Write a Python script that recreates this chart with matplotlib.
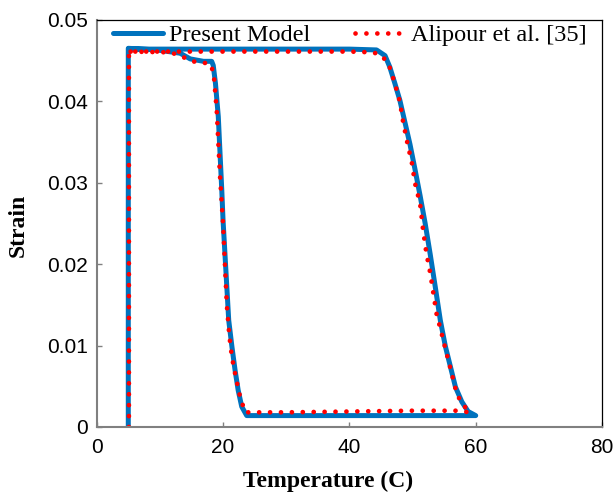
import matplotlib.pyplot as plt

# heating / cooling loop, strain vs temperature
model_temp = [5.0, 5.0, 20.0, 30.0, 40.0, 44.3, 45.65, 46.4, 47.2, 48.0, 48.8,
              49.6, 50.4, 51.2, 52.0, 52.8, 53.6, 54.4, 55.2, 56.0, 56.8, 57.8,
              58.8, 60.0, 50.0, 40.0, 30.0, 23.75, 22.96, 22.4, 21.9, 21.4,
              20.9, 20.6, 20.3, 20.0, 19.8, 19.5, 19.25, 18.8, 18.45, 18.2,
              16.9, 14.8, 13.2, 9.5, 5.0]
model_strain = [0.0, 0.0464, 0.0464, 0.0464, 0.0464, 0.0463, 0.0456, 0.0442,
                0.0422, 0.0401, 0.0374, 0.0347, 0.0316, 0.0284, 0.0250, 0.0212,
                0.0172, 0.0131, 0.0099, 0.0074, 0.0049, 0.0031, 0.0019, 0.0014,
                0.0014, 0.0014, 0.0014, 0.0014, 0.0025, 0.0045, 0.0070, 0.0099,
                0.0131, 0.0172, 0.0213, 0.0254, 0.0291, 0.0340, 0.0381, 0.0422,
                0.0444, 0.0449, 0.0449, 0.0452, 0.0459, 0.0463, 0.0465]

ref_temp = [5.1, 5.1, 20.0, 30.0, 40.0, 43.8, 45.1, 46.2, 46.7, 47.2, 48.0,
            48.5, 49.2, 49.9, 50.4, 51.2, 51.7, 52.2, 52.8, 53.3, 53.8, 54.6,
            55.4, 56.2, 57.0, 57.8, 59.1, 57.0, 50.0, 40.0, 30.0, 23.5, 22.7,
            22.0, 21.4, 21.0, 20.6, 20.0, 19.5, 19.0, 18.5, 17.8, 16.4, 14.7,
            13.3, 11.6, 5.2]
ref_strain = [0.0, 0.0461, 0.0461, 0.0461, 0.0461, 0.0460, 0.0456, 0.0446,
              0.0434, 0.0422, 0.0399, 0.0375, 0.0348, 0.0324, 0.0299, 0.0274,
              0.0240, 0.0213, 0.0189, 0.0164, 0.0139, 0.0115, 0.0090, 0.0066,
              0.0041, 0.0029, 0.0018, 0.0020, 0.0020, 0.0019, 0.0018, 0.0018,
              0.0037, 0.0062, 0.0086, 0.0112, 0.0150, 0.0250, 0.0311, 0.0389,
              0.0436, 0.0447, 0.0447, 0.0450, 0.0456, 0.0460, 0.0461]

x_ticks = [0, 20, 40, 60, 80]
y_ticks = [0, 0.01, 0.02, 0.03, 0.04, 0.05]
y_tick_labels = ['0', '0.01', '0.02', '0.03', '0.04', '0.05']

fig = plt.figure(figsize=(6.14, 4.95), dpi=100)
ax = fig.add_axes([0.1575, 0.1374, 0.823, 0.8226])

ax.plot(model_temp, model_strain, color='#0072BD', lw=3.6,
        solid_capstyle='round', solid_joinstyle='round', label='Present Model')
ax.plot(ref_temp, ref_strain, color='#FF0000', lw=3.4,
        linestyle=(0, (0.01, 2.3)), dash_capstyle='round',
        label='Alipour et al. [35]')

ax.set_xlim(0, 80)
ax.set_ylim(0, 0.05)
ax.set_xticks(x_ticks)
ax.set_yticks(y_ticks)
ax.set_yticklabels(y_tick_labels)

for name in ['left', 'bottom']:
    ax.spines[name].set_color('#808080')
    ax.spines[name].set_linewidth(1.5)
for name in ['top', 'right']:
    ax.spines[name].set_color('black')
    ax.spines[name].set_linewidth(0.9)

ax.tick_params(direction='in', length=3.6, width=1.0, color='#808080',
               labelsize=15)
ax.tick_params(axis='x', pad=8)
ax.tick_params(axis='y', pad=6)
for lab in ax.get_xticklabels() + ax.get_yticklabels():
    lab.set_fontfamily('Liberation Sans')

ax.set_xlabel('Temperature (C)', fontsize=17, fontweight='bold',
              fontfamily='Liberation Serif')
ax.set_ylabel('Strain', fontsize=17, fontweight='bold',
              fontfamily='Liberation Serif')
ax.xaxis.set_label_coords(0.458, -0.108)
ax.yaxis.set_label_coords(-0.134, 0.496)

ax.legend(loc='center left', bbox_to_anchor=(0.032, 0.962), ncol=2,
          frameon=False, borderpad=0, borderaxespad=0, handlelength=2.06,
          handletextpad=0.25, columnspacing=1.85,
          prop={'family': 'Liberation Serif', 'size': 17.5})

fig.savefig('out.png', dpi=100)
